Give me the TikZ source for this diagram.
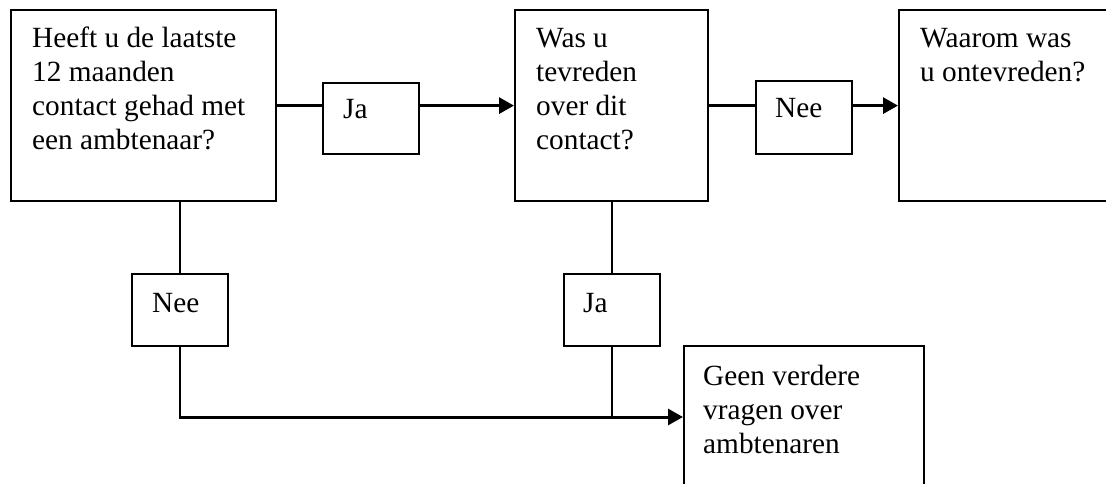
\documentclass[tikz,border=0pt]{standalone}
\usepackage{fontspec}
\setmainfont{Liberation Serif}
\usetikzlibrary{arrows.meta}
\begin{document}
\begin{tikzpicture}[x=1pt, y=-1pt,
  box/.style={draw, line width=2.2pt, inner sep=0pt, anchor=north west},
  % base anchor of a multi-line text is the baseline of its last line
  boxtext/.style={anchor=base west, inner sep=0pt, align=left,
    font=\fontsize{29.3pt}{34pt}\selectfont},
  link/.style={line width=2.2pt},
  arrowlink/.style={line width=3pt, -{Triangle[length=15pt,width=16pt]}}]
\clip (0,0) rectangle (1106,484);
\fill[white] (0,0) rectangle (1106,484);

% question boxes
\node[box, minimum width=265pt, minimum height=191pt] (q1) at (10,9) {};
\node[box, minimum width=193pt, minimum height=191pt] (q2) at (514,9) {};
\node[box, minimum width=250pt, minimum height=191pt] (q3) at (898,9) {};
\node[box, minimum width=240pt, minimum height=200pt] (q4) at (683,345) {};

% answer boxes on the connectors
\node[box, minimum width=96pt, minimum height=71pt] (jaA) at (322,82) {};
\node[box, minimum width=96pt, minimum height=73pt] (neeA) at (755,80) {};
\node[box, minimum width=96pt, minimum height=72pt] (neeB) at (131,273) {};
\node[box, minimum width=96pt, minimum height=72pt] (jaB) at (563,273) {};

% texts
\node[boxtext] (t1) at (32,149.7) {Heeft u de laatste\\12 maanden\\contact gehad met\\een ambtenaar?};
\node[boxtext] (t2) at (536,149.7) {Was u\\tevreden\\over dit\\contact?};
\node[boxtext] (t3) at (920,81.7) {Waarom was\\u ontevreden?};
\node[boxtext] (t4) at (703,453) {Geen verdere\\vragen over\\ambtenaren};
\node[boxtext] (tjaA) at (343,119) {Ja};
\node[boxtext] (tneeA) at (775,118) {Nee};
\node[boxtext] (tneeB) at (152,312) {Nee};
\node[boxtext] (tjaB) at (583,312) {Ja};

% connectors
\coordinate (rail) at (0,417);
\draw[link] (q1.east) -- (q1.east -| jaA.west);
\draw[arrowlink] (q1.east -| jaA.east) -- (q2.west);
\draw[link] (q2.east) -- (q2.east -| neeA.west);
\draw[arrowlink] (q2.east -| neeA.east) -- (q3.west);
\draw[link] (q1.south -| neeB.north) -- (neeB.north);
\draw[link] (neeB.south) -- (neeB.south |- rail);
\draw[link] (q2.south -| jaB.north) -- (jaB.north);
\draw[link] (jaB.south) -- (jaB.south |- rail);
\draw[arrowlink, line cap=rect] (neeB.south |- rail) -- (q4.west |- rail);
\end{tikzpicture}
\end{document}
